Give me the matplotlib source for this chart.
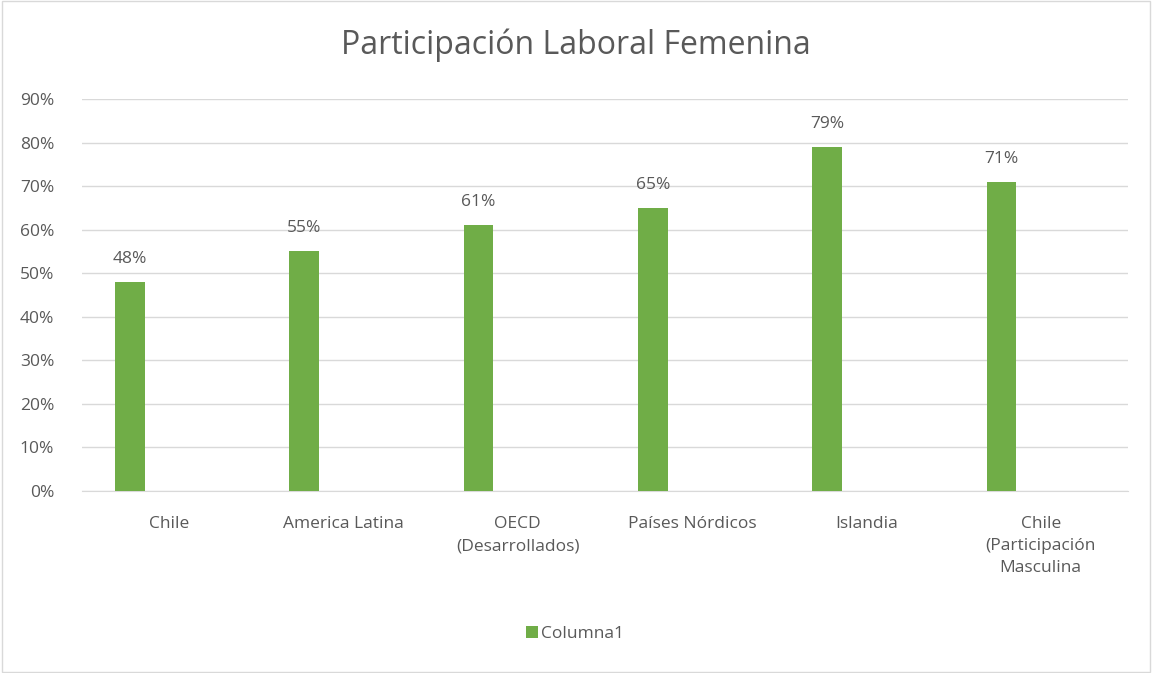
import matplotlib.pyplot as plt
from matplotlib.patches import Rectangle
import numpy as np

# datos
categorias = ['Chile', 'America Latina', 'OECD\n(Desarrollados)', 'Países Nórdicos',
              'Islandia', 'Chile\n(Participación\nMasculina']
valores = [0.48, 0.55, 0.61, 0.65, 0.79, 0.71]
etiquetas_y = ['0%', '10%', '20%', '30%', '40%', '50%', '60%', '70%', '80%', '90%']
serie = 'Columna1'

verde = '#70ad47'
gris_texto = '#595959'
gris_linea = '#d9d9d9'

plt.rcParams['font.family'] = ['Open Sans', 'DejaVu Sans']

fig = plt.figure(figsize=(11.52, 6.73), dpi=100)
ax = fig.add_axes([0.0712, 0.2704, 0.9078, 0.5825])

x = np.arange(len(categorias))
# las barras estan corridas a la izquierda del centro (como en Excel)
barras = ax.bar(x - 0.225, valores, width=0.17, color=verde, label=serie, zorder=3)

for b, v in zip(barras, valores):
    ax.text(b.get_x() + b.get_width() / 2, v + 0.035, f'{v:.0%}', ha='center', va='bottom',
            fontsize=12.5, color=gris_texto)

ax.set_xlim(-0.5, len(categorias) - 0.5)
ax.set_ylim(0, 0.9)
ax.set_yticks(np.arange(0, 0.91, 0.1))
ax.set_yticklabels(etiquetas_y, fontsize=12.5, color=gris_texto)
ax.set_xticks(x)
ax.set_xticklabels(categorias, fontsize=12.5, color=gris_texto, linespacing=1.5, va='top')
ax.tick_params(axis='both', length=0)
ax.tick_params(axis='x', pad=18)
ax.tick_params(axis='y', pad=20)

ax.grid(axis='y', color=gris_linea, linewidth=1, zorder=0)
for s in ['top', 'right', 'left']:
    ax.spines[s].set_visible(False)
ax.spines['bottom'].set_color(gris_linea)

fig.text(0.5, 0.933, 'Participación Laboral Femenina', ha='center', va='center',
         fontsize=23, color=gris_texto)

ax.legend(loc='center', bbox_to_anchor=(0.499, 0.058), bbox_transform=fig.transFigure,
          frameon=False, fontsize=12.5, handlelength=0.7, handleheight=0.7, handletextpad=0.2,
          labelcolor=gris_texto)

fig.patches.append(Rectangle((0.002, 0.002), 0.996, 0.996, transform=fig.transFigure,
                             fill=False, edgecolor=gris_linea, linewidth=1))

fig.savefig('out.png', dpi=100)
